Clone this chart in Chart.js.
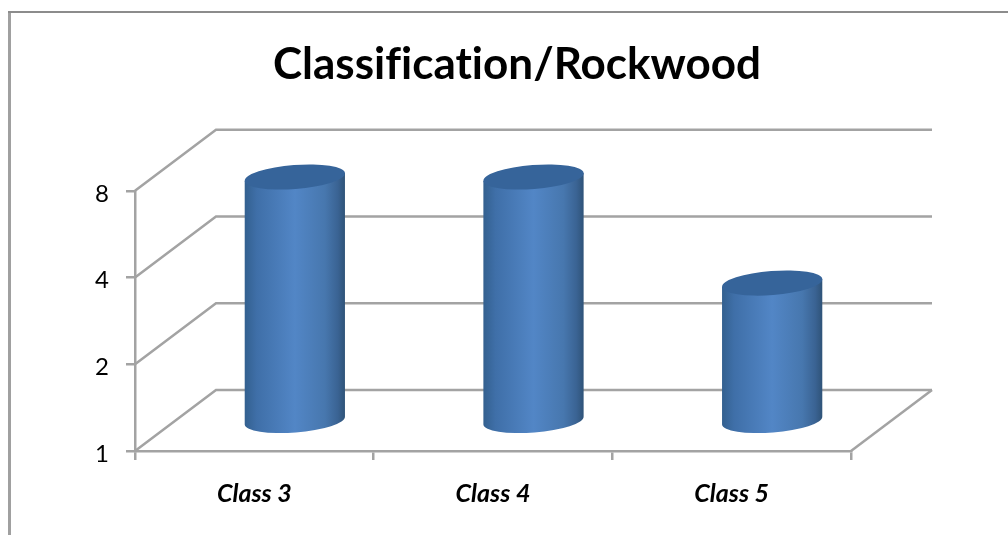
<!DOCTYPE html>
<html>
<head>
<meta charset="utf-8">
<title>Classification/Rockwood</title>
<script src="https://cdn.jsdelivr.net/npm/chart.js@4"></script>
<style>
  html, body { margin: 0; padding: 0; background: #fff; }
  #wrap { position: relative; width: 1008px; height: 535px; overflow: hidden; }
  canvas { display: block; filter: blur(0.4px); }
</style>
</head>
<body>
<div id="wrap"><canvas id="rockwoodChart" width="1008" height="535"></canvas></div>
<script>
const categories = ['Class 3', 'Class 4', 'Class 5'];
const seriesValues = [7, 7, 3];
const tickValues = [1, 2, 4, 8];

const gridColor = '#a3a3a3';
const depthX = 81;
const depthY = 61;

// back wall and floor lines, built from the y scale
const wallPlugin = {
  id: 'wall',
  beforeDatasetsDraw(chart) {
    const { ctx, chartArea, scales } = chart;
    ctx.save();
    ctx.strokeStyle = gridColor;
    ctx.lineWidth = 2.5;
    tickValues.forEach(value => {
      const y = scales.y.getPixelForValue(value);
      ctx.beginPath();
      ctx.moveTo(chartArea.left, y);
      ctx.lineTo(chartArea.left + depthX, y - depthY);
      ctx.lineTo(chartArea.right + depthX, y - depthY);
      ctx.stroke();
    });
    const floorY = scales.y.getPixelForValue(1);
    ctx.beginPath();
    ctx.moveTo(chartArea.right, floorY);
    ctx.lineTo(chartArea.right + depthX, floorY - depthY);
    ctx.stroke();
    ctx.restore();
  }
};

// bars are drawn as tilted cylinders, sitting half way into the depth
const cylinderPlugin = {
  id: 'cylinder',
  afterDatasetsDraw(chart) {
    const { ctx } = chart;
    const tilt = -4.5 * Math.PI / 180;
    chart.getDatasetMeta(0).data.forEach(bar => {
      const cx = bar.x + depthX / 2;
      const topY = bar.y - depthY / 2;
      const baseY = bar.base - depthY / 2;
      const rx = bar.width / 2;
      const ry = 12;
      const dy = Math.sin(tilt) * rx;

      const body = ctx.createLinearGradient(cx - rx, 0, cx + rx, 0);
      body.addColorStop(0, '#33608f');
      body.addColorStop(0.12, '#3f6fa8');
      body.addColorStop(0.5, '#5286c6');
      body.addColorStop(0.8, '#4777ae');
      body.addColorStop(0.93, '#3a6393');
      body.addColorStop(1, '#2f5378');

      ctx.save();
      ctx.fillStyle = body;
      ctx.beginPath();
      ctx.moveTo(cx - rx, topY - dy);
      ctx.lineTo(cx + rx, topY + dy);
      ctx.lineTo(cx + rx, baseY + dy);
      ctx.ellipse(cx, baseY, rx / Math.cos(tilt), ry, tilt, 0, Math.PI);
      ctx.closePath();
      ctx.fill();

      ctx.fillStyle = '#36649a';
      ctx.beginPath();
      ctx.ellipse(cx, topY, rx / Math.cos(tilt), ry, tilt, 0, 2 * Math.PI);
      ctx.fill();
      ctx.restore();
    });
  }
};

// outer frame of the picture, also switches off the Lato ti ligature
const framePlugin = {
  id: 'frame',
  beforeDraw(chart) {
    const { ctx } = chart;
    ctx.letterSpacing = '0.01px';
    ctx.save();
    ctx.fillStyle = '#a0a0a0';
    ctx.fillRect(8, 11, 3, 524);
    ctx.fillStyle = '#8c8c8c';
    ctx.fillRect(8, 11, 1000, 2);
    ctx.restore();
  }
};

new Chart(document.getElementById('rockwoodChart'), {
  type: 'bar',
  data: {
    labels: categories,
    datasets: [{
      data: seriesValues,
      backgroundColor: 'transparent',
      borderWidth: 0,
      categoryPercentage: 1,
      barPercentage: 0.42
    }]
  },
  options: {
    responsive: false,
    animation: false,
    layout: { padding: { left: 26, right: 0, top: 0, bottom: 0 } },
    plugins: {
      legend: { display: false },
      tooltip: { enabled: false },
      title: {
        display: true,
        text: 'Classification/Rockwood',
        color: '#000',
        font: { family: 'Lato', size: 44, weight: 'bold', lineHeight: 1.2 },
        padding: { top: 38, bottom: 100 }
      }
    },
    scales: {
      x: {
        afterFit: scale => { scale.height = 84; },
        grid: {
          offset: true,
          drawOnChartArea: false,
          drawTicks: true,
          tickLength: 9,
          color: gridColor,
          lineWidth: 2.5
        },
        border: { color: gridColor, width: 2.5 },
        ticks: {
          color: '#000',
          padding: 19,
          maxRotation: 0,
          font: { family: 'Lato', size: 25, weight: 'bold', style: 'italic' }
        }
      },
      y: {
        type: 'logarithmic',
        min: 1,
        max: 8,
        afterFit: scale => { scale.width = 109; },
        afterBuildTicks: scale => { scale.ticks = tickValues.map(value => ({ value })); },
        grid: {
          drawOnChartArea: false,
          drawTicks: true,
          tickLength: 9,
          color: gridColor,
          lineWidth: 2.5
        },
        border: { color: gridColor, width: 2.5 },
        ticks: {
          color: '#000',
          padding: 17,
          labelOffset: 3,
          font: { family: 'Lato', size: 24 },
          callback: value => String(value)
        }
      },
      // empty axis only keeps the room for the depth on the right
      spacer: {
        position: 'right',
        afterFit: scale => { scale.width = 157; },
        grid: { display: false },
        border: { display: false },
        ticks: { display: false }
      }
    }
  },
  plugins: [framePlugin, wallPlugin, cylinderPlugin]
});
</script>
</body>
</html>
